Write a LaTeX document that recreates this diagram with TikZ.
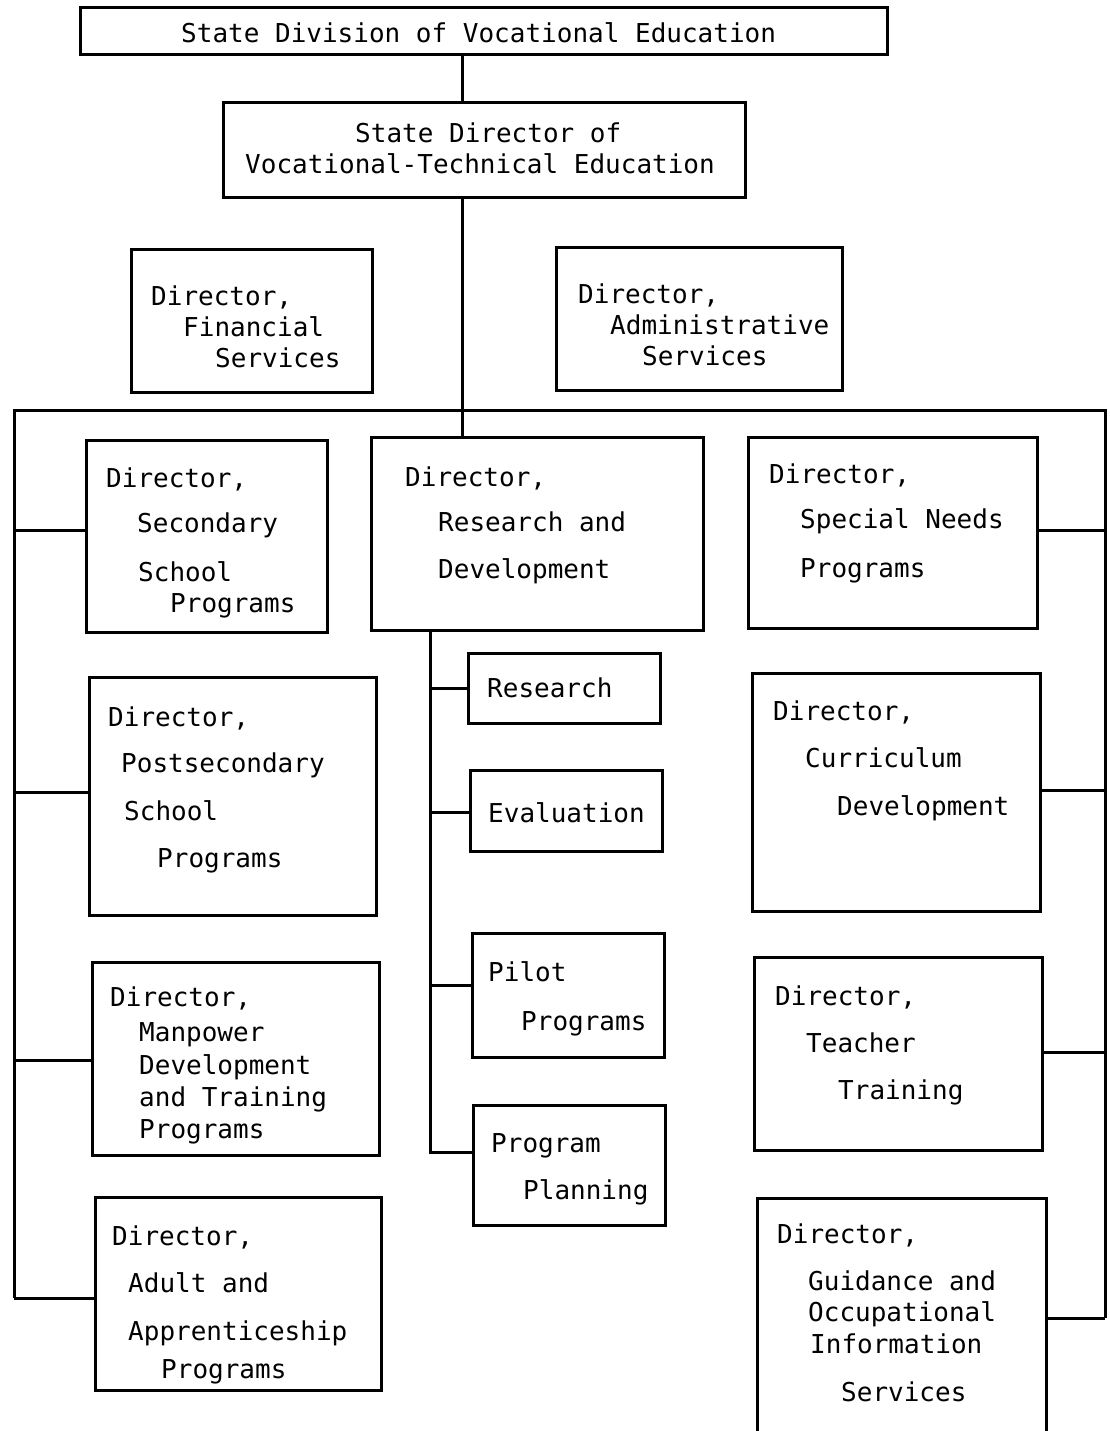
\documentclass[tikz,border=0pt]{standalone}
\usepackage{fontspec}
\setmainfont{DejaVu Sans Mono}
\begin{document}
\begin{tikzpicture}[x=1pt,y=-1pt,
  box/.style={draw, line width=3pt, rectangle, inner sep=0pt},
  lbl/.style={anchor=base west, inner sep=0pt, font=\fontsize{26}{30}\selectfont},
  conn/.style={line width=3pt}]
\useasboundingbox[fill=white] (0,0) rectangle (1109,1431);
% boxes
\node[box, minimum width=807pt, minimum height=47pt] (top) at (483.5,31.5) {};
\node[box, minimum width=522pt, minimum height=95pt] (dir) at (484,150.5) {};
\node[box, minimum width=241pt, minimum height=142pt] (fin) at (251.5,321) {};
\node[box, minimum width=286pt, minimum height=142pt] (adm) at (699,319) {};
\node[box, minimum width=241pt, minimum height=192pt] (sec) at (206.5,536) {};
\node[box, minimum width=287pt, minimum height=238pt] (post) at (232.5,796) {};
\node[box, minimum width=287pt, minimum height=193pt] (man) at (235.5,1058.5) {};
\node[box, minimum width=286pt, minimum height=193pt] (adult) at (238,1293.5) {};
\node[box, minimum width=332pt, minimum height=193pt] (rd) at (537,533.5) {};
\node[box, minimum width=192pt, minimum height=70pt] (res) at (564,688) {};
\node[box, minimum width=192pt, minimum height=81pt] (eval) at (566,810.5) {};
\node[box, minimum width=192pt, minimum height=124pt] (pilot) at (568,995) {};
\node[box, minimum width=192pt, minimum height=120pt] (plan) at (569,1165) {};
\node[box, minimum width=289pt, minimum height=191pt] (spec) at (892.5,532.5) {};
\node[box, minimum width=288pt, minimum height=238pt] (cur) at (896,792) {};
\node[box, minimum width=288pt, minimum height=193pt] (teach) at (898,1053.5) {};
\node[box, minimum width=289pt, minimum height=248pt] (guid) at (901.5,1322) {};
% connector coordinates
\coordinate (spine) at (462,0);
\coordinate (busL) at (14,410);
\coordinate (busR) at (1105,410);
\coordinate (sub) at (430,0);
% connectors
\draw[conn] (top.south -| spine) -- (dir.north -| spine);
\draw[conn] (dir.south -| spine) -- (rd.north -| spine);
\draw[conn] ([yshift=-4.5pt]adult.west -| busL) -- (busL) -- (busR) -- ([yshift=4pt]guid.east -| busR);
\draw[conn] ([yshift=6pt]sec.west -| busL) -- ([yshift=6pt]sec.west);
\draw[conn] ([yshift=4pt]post.west -| busL) -- ([yshift=4pt]post.west);
\draw[conn] ([yshift=-1.5pt]man.west -| busL) -- ([yshift=-1.5pt]man.west);
\draw[conn] ([yshift=-4.5pt]adult.west -| busL) -- ([yshift=-4.5pt]adult.west);
\draw[conn] ([yshift=2.5pt]spec.east) -- ([yshift=2.5pt]spec.east -| busR);
\draw[conn] ([yshift=2pt]cur.east) -- ([yshift=2pt]cur.east -| busR);
\draw[conn] ([yshift=1.5pt]teach.east) -- ([yshift=1.5pt]teach.east -| busR);
\draw[conn] ([yshift=4pt]guid.east) -- ([yshift=4pt]guid.east -| busR);
\draw[conn] (rd.south -| sub) -- ([yshift=13pt]plan.west -| sub) -- ([yshift=13pt]plan.west);
\draw[conn] (res.west -| sub) -- (res.west);
\draw[conn] ([yshift=-1.5pt]eval.west -| sub) -- ([yshift=-1.5pt]eval.west);
\draw[conn] ([yshift=10pt]pilot.west -| sub) -- ([yshift=10pt]pilot.west);
% texts
\node[lbl] (t1) at (181,43) {State Division of Vocational Education};
\node[lbl] (t2a) at (355,143) {State Director of};
\node[lbl] (t2b) at (245,174) {Vocational-Technical Education};
\node[lbl] (t3a) at (151,305) {Director,};
\node[lbl] (t3b) at (183,336) {Financial};
\node[lbl] (t3c) at (215,367) {Services};
\node[lbl] (t4a) at (578,303) {Director,};
\node[lbl] (t4b) at (610,334) {Administrative};
\node[lbl] (t4c) at (642,365) {Services};
\node[lbl] (t5a) at (106,487) {Director,};
\node[lbl] (t5b) at (137,532) {Secondary};
\node[lbl] (t5c) at (138,581) {School};
\node[lbl] (t5d) at (170,612) {Programs};
\node[lbl] (t6a) at (108,726) {Director,};
\node[lbl] (t6b) at (121,772) {Postsecondary};
\node[lbl] (t6c) at (124,820) {School};
\node[lbl] (t6d) at (157,867) {Programs};
\node[lbl] (t7a) at (110,1006) {Director,};
\node[lbl] (t7b) at (139,1041) {Manpower};
\node[lbl] (t7c) at (139,1074) {Development};
\node[lbl] (t7d) at (139,1106) {and Training};
\node[lbl] (t7e) at (139,1138) {Programs};
\node[lbl] (t8a) at (112,1245) {Director,};
\node[lbl] (t8b) at (128,1292) {Adult and};
\node[lbl] (t8c) at (128,1340) {Apprenticeship};
\node[lbl] (t8d) at (161,1378) {Programs};
\node[lbl] (t9a) at (405,486) {Director,};
\node[lbl] (t9b) at (438,531) {Research and};
\node[lbl] (t9c) at (438,578) {Development};
\node[lbl] (t10) at (487,697) {Research};
\node[lbl] (t11) at (488,822) {Evaluation};
\node[lbl] (t12a) at (488,981) {Pilot};
\node[lbl] (t12b) at (521,1030) {Programs};
\node[lbl] (t13a) at (491,1152) {Program};
\node[lbl] (t13b) at (523,1199) {Planning};
\node[lbl] (t14a) at (769,483) {Director,};
\node[lbl] (t14b) at (800,528) {Special Needs};
\node[lbl] (t14c) at (800,577) {Programs};
\node[lbl] (t15a) at (773,720) {Director,};
\node[lbl] (t15b) at (805,767) {Curriculum};
\node[lbl] (t15c) at (837,815) {Development};
\node[lbl] (t16a) at (775,1005) {Director,};
\node[lbl] (t16b) at (806,1052) {Teacher};
\node[lbl] (t16c) at (838,1099) {Training};
\node[lbl] (t17a) at (777,1243) {Director,};
\node[lbl] (t17b) at (808,1290) {Guidance and};
\node[lbl] (t17c) at (808,1321) {Occupational};
\node[lbl] (t17d) at (810,1353) {Information};
\node[lbl] (t17e) at (841,1401) {Services};
\end{tikzpicture}
\end{document}
